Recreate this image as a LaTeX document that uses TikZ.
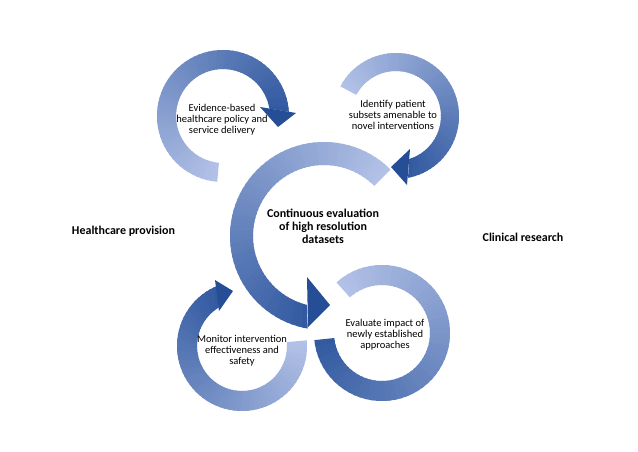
\documentclass[tikz,border=0pt]{standalone}
\usepackage{fontspec}
\setmainfont{Carlito}
\definecolor{arclight}{RGB}{190,203,237}
\definecolor{arcdark}{RGB}{42,83,156}
\definecolor{headdark}{RGB}{38,78,150}
% #1,#2 centre; #3 inner radius; #4 outer radius; #5 start angle (light);
% #6 end angle on the outer edge; #7 end angle on the inner edge (dark end)
\newcommand\gradarc[7]{%
  \pgfmathsetmacro\swo{(#6-#5)/60}%
  \pgfmathsetmacro\swi{(#7-#5)/60}%
  \foreach \i in {0,...,59}{%
    \pgfmathsetmacro\ta{#5+\swo*\i}%
    \pgfmathsetmacro\tb{#5+\swo*min(\i+1.5,60)}%
    \pgfmathsetmacro\tc{#5+\swi*\i}%
    \pgfmathsetmacro\td{#5+\swi*min(\i+1.5,60)}%
    \pgfmathtruncatemacro\pc{8+87*(\i+0.5)/60}%
    \fill[arcdark!\pc!arclight, shift={(#1pt,#2pt)}]
      (\ta:#4pt) arc[start angle=\ta, end angle=\tb, radius=#4pt]
      -- (\td:#3pt) arc[start angle=\td, end angle=\tc, radius=#3pt] -- cycle;
  }%
}
\tikzset{
  head/.style={fill=headdark},
  steptext/.style={align=center, font=\fontsize{10.5}{11}\selectfont, inner sep=0pt},
  maintext/.style={align=center, font=\bfseries\fontsize{12}{13}\selectfont, inner sep=0pt},
  sidetext/.style={font=\bfseries\fontsize{12}{13}\selectfont, inner sep=0pt}
}
\begin{document}
\begin{tikzpicture}[x=1pt,y=1pt]
\useasboundingbox[fill=white] (0,0) rectangle (638,451);

% arc 1 (top left)
\gradarc{223}{335}{47}{66}{265}{3.6}{9}
\fill[head] (260,344) -- (278,324) -- (296,338) -- cycle;

% arc 2 (top right)
\gradarc{396}{335}{45}{63}{152}{-79}{-73}
\fill[head] (410,302) -- (391,284) -- (407,266) -- cycle;

% arc 4 (bottom left)
\gradarc{242}{105}{45}{65}{5}{-248}{-239}
\fill[head] (219,140) -- (233,160) -- (215,171) -- cycle;

% arc 5 (bottom right)
\gradarc{382}{118}{48}{68}{132}{-174}{-174}

% arc 3 (centre)
\gradarc{324}{215}{71}{94}{45}{260}{256}
\fill[head] (307,174) -- (330,146) -- (308,124) -- cycle;

\node[steptext] (t1) at (222,331) {Evidence-based\\healthcare policy and\\service delivery};
\node[steptext] (t2) at (393,336) {Identify patient\\subsets amenable to\\novel interventions};
\node[maintext] (t3) at (323,225) {Continuous evaluation\\of high resolution\\datasets};
\node[steptext] (t4) at (242,100) {Monitor intervention\\effectiveness and\\safety};
\node[steptext] (t5) at (385,116) {Evaluate impact of\\newly established\\approaches};
\node[sidetext] (hp) at (123.5,220) {Healthcare provision};
\node[sidetext] (cr) at (523,214) {Clinical research};
\end{tikzpicture}
\end{document}
